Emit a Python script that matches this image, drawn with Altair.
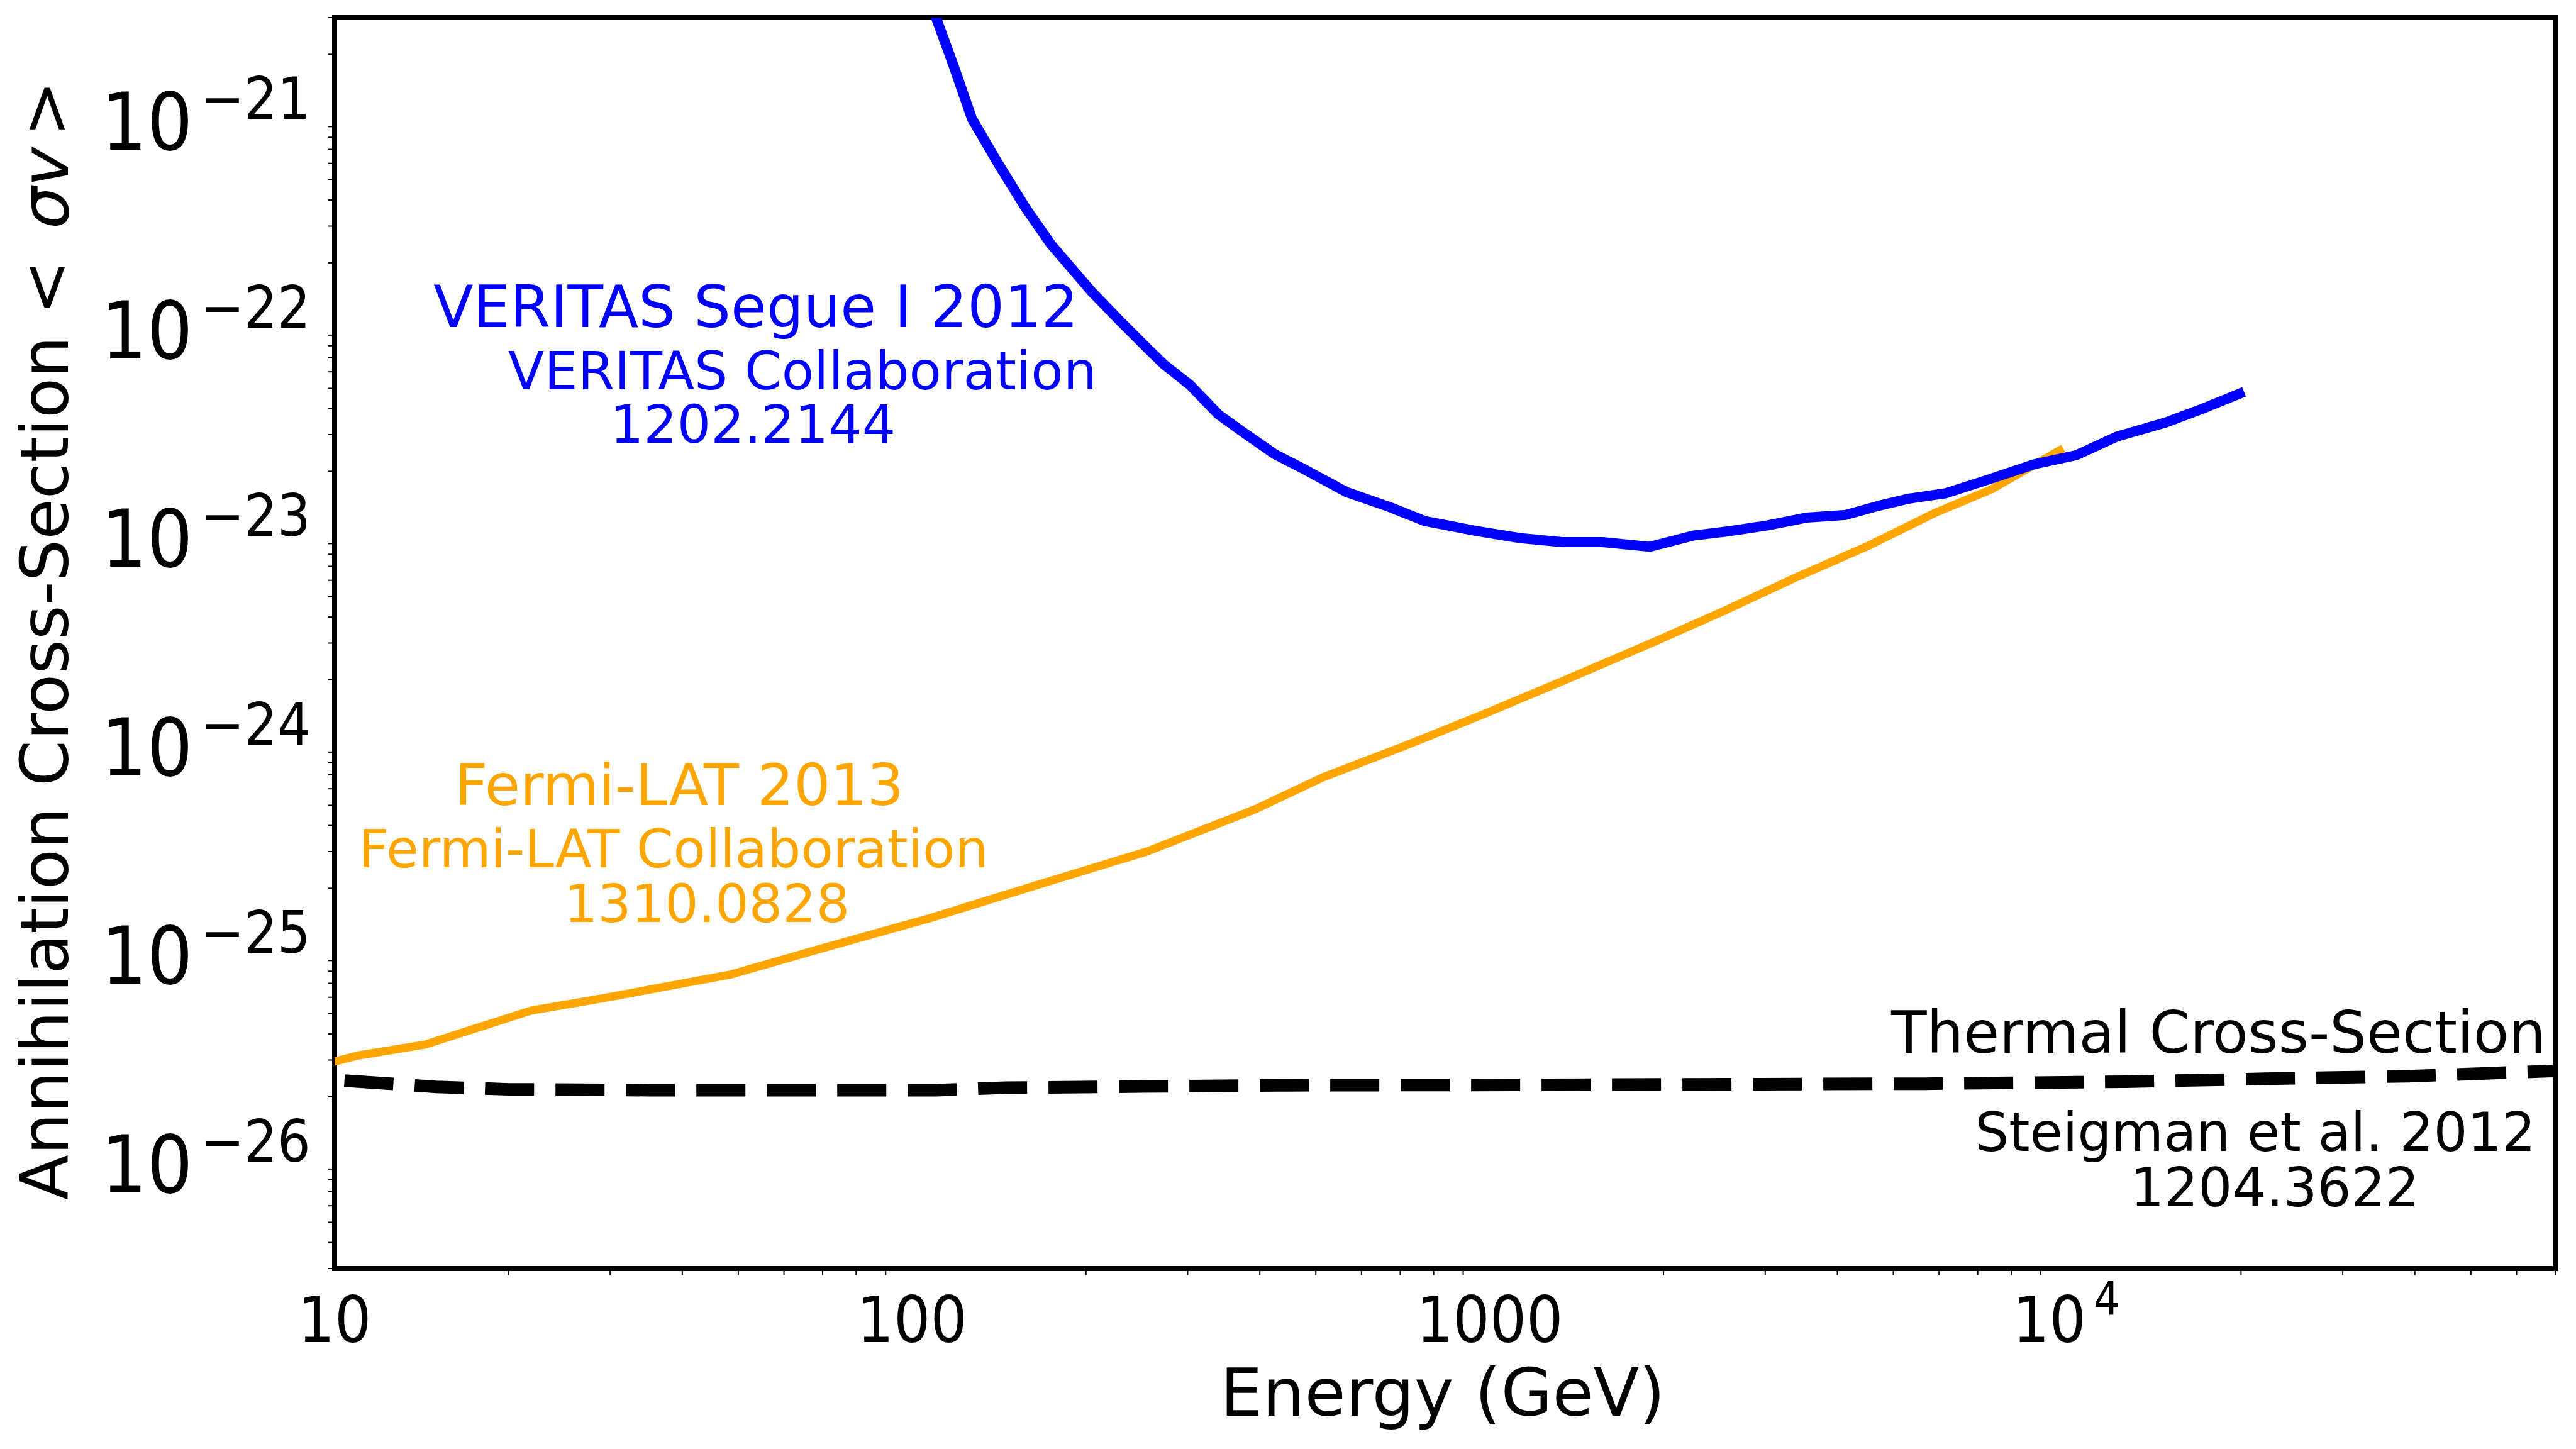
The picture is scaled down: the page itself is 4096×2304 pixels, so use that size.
import altair as alt
import pandas as pd

# ---------------------------------------------------------------------------
# Data
# ---------------------------------------------------------------------------
# VERITAS Segue 1 upper limit on <sigma v> (GeV, cm^3/s)
veritas_energy = [110, 118, 127, 140.6, 157, 174, 205, 230, 255, 273, 303, 339,
                  373, 424, 480, 565, 670, 771, 946, 1127, 1334, 1570, 1892,
                  2250, 2620, 3030, 3546, 4140, 4720, 5310, 6170, 7240, 8760,
                  10370, 12170, 14820, 17420, 19870]
veritas_sigmav = [3.0e-21, 1.76e-21, 9.8e-22, 6.05e-22, 3.69e-22, 2.45e-22,
                  1.445e-22, 1.04e-22, 7.82e-23, 6.51e-23, 5.18e-23, 3.75e-23,
                  3.10e-23, 2.42e-23, 2.03e-23, 1.59e-23, 1.35e-23, 1.156e-23,
                  1.035e-23, 9.57e-24, 9.15e-24, 9.15e-24, 8.69e-24, 9.83e-24,
                  1.035e-23, 1.10e-23, 1.20e-23, 1.236e-23, 1.367e-23, 1.477e-23,
                  1.57e-23, 1.81e-23, 2.16e-23, 2.39e-23, 2.93e-23, 3.43e-23,
                  4.06e-23, 4.71e-23]

# Fermi-LAT dwarf spheroidal combined limit
fermi_energy = [10.0, 10.96, 14.35, 21.9, 29.0, 48.3, 69.0, 108, 169, 255, 393,
                514, 708, 977, 1349, 1948, 2570, 3390, 4470, 5880, 7400, 9700]
fermi_sigmav = [2.95e-26, 3.15e-26, 3.56e-26, 5.18e-26, 5.92e-26, 7.69e-26,
                1.02e-25, 1.445e-25, 2.12e-25, 3.0e-25, 4.79e-25, 6.8e-25,
                9.57e-25, 1.368e-24, 1.99e-24, 3.08e-24, 4.33e-24, 6.19e-24,
                8.65e-24, 1.256e-23, 1.64e-23, 2.52e-23]

# Thermal relic cross-section
thermal_energy = [10.4, 15, 20, 35, 80, 110, 145, 250, 450, 1100, 5700, 12600,
                  22000, 39000, 70000]
thermal_sigmav = [2.39e-26, 2.23e-26, 2.17e-26, 2.15e-26, 2.15e-26, 2.15e-26,
                  2.21e-26, 2.24e-26, 2.27e-26, 2.28e-26, 2.31e-26, 2.36e-26,
                  2.44e-26, 2.51e-26, 2.66e-26]

# Tick labels
x_major = [10, 100, 1000, 10000]
x_major_base = ["10", "100", "1000", "10"]
x_major_exp = ["", "", "", "4"]
y_major = [1e-26, 1e-25, 1e-24, 1e-23, 1e-22, 1e-21]
y_major_exp = ["\u221226", "\u221225", "\u221224", "\u221223", "\u221222", "\u221221"]

# Annotation text
veritas_lines = ["VERITAS Segue I 2012", "VERITAS Collaboration", "1202.2144"]
fermi_lines = ["Fermi-LAT 2013", "Fermi-LAT Collaboration", "1310.0828"]
thermal_lines = ["Thermal Cross-Section", "Steigman et al. 2012", "1204.3622"]

# Axis titles (the y title has an italic "σv" part)
x_title = "Energy (GeV)"
y_title_parts = ["Annihilation Cross-Section <", "\u03c3v", ">"]

# ---------------------------------------------------------------------------
# Layout / style
# ---------------------------------------------------------------------------
W, H = 3531, 1989
PAD = {"left": 532, "top": 28, "right": 33, "bottom": 287}
FONT = "DejaVu Sans"
TICK_FONT = "DejaVu Sans Condensed, DejaVu Sans"
BLUE, ORANGE, BLACK = "#0000ff", "#ffa500", "#000000"

X_LO, X_HI = 10, 70000
Y_LO, Y_HI = 3e-27, 3e-21
x_scale = alt.Scale(type="log", domain=[X_LO, X_HI], nice=False)
y_scale = alt.Scale(type="log", domain=[Y_LO, Y_HI], nice=False)

# minor ticks on the log axes (2..9 x each decade inside the domain)
x_minor = [k * 10 ** d for d in range(1, 5) for k in range(2, 10)
           if k * 10 ** d <= X_HI * 1.0001]
y_minor = [float(f"{k}e{d}") for d in range(-27, -20) for k in range(2, 10)
           if Y_LO * 0.9999 <= float(f"{k}e{d}") <= Y_HI * 1.0001]

x_axis = alt.Axis(values=x_major, labels=False, domain=False, grid=False,
                  ticks=True, tickSize=17.5, tickWidth=2.4, tickColor=BLACK,
                  title=None)
y_axis = alt.Axis(values=y_major, labels=False, domain=False, grid=False,
                  ticks=True, tickSize=17.5, tickWidth=2.4, tickColor=BLACK,
                  title=None)


def curve(energy, sigmav, color, width, dash=None, cap="square", axes=False):
    df = pd.DataFrame({"energy": energy, "sigmav": sigmav})
    props = dict(color=color, strokeWidth=width, strokeCap=cap,
                 strokeJoin="round", clip=True)
    if dash:
        props["strokeDash"] = dash
    return alt.Chart(df).mark_line(**props).encode(
        x=alt.X("energy:Q", scale=x_scale, axis=x_axis if axes else None),
        y=alt.Y("sigmav:Q", scale=y_scale, axis=y_axis if axes else None),
    )


def note(text, x, y, size, color, align="center", angle=0, style="normal"):
    return alt.Chart(pd.DataFrame({"t": [text]})).mark_text(
        align=align, baseline="alphabetic", font=FONT, fontSize=size,
        color=color, angle=angle, fontStyle=style,
    ).encode(x=alt.value(x), y=alt.value(y), text="t:N")


thermal = curve(thermal_energy, thermal_sigmav, BLACK, 20, dash=[78, 34],
                cap="butt", axes=True)
fermi = curve(fermi_energy, fermi_sigmav, ORANGE, 13)
veritas = curve(veritas_energy, veritas_sigmav, BLUE, 16)

# minor ticks
x_minor_ticks = alt.Chart(pd.DataFrame({"v": x_minor})).mark_rule(
    color=BLACK, strokeWidth=2.0
).encode(x=alt.X("v:Q", scale=x_scale, axis=None),
         y=alt.value(H), y2=alt.value(H + 10.5))
y_minor_ticks = alt.Chart(pd.DataFrame({"v": y_minor})).mark_rule(
    color=BLACK, strokeWidth=2.0
).encode(y=alt.Y("v:Q", scale=y_scale, axis=None),
         x=alt.value(0), x2=alt.value(-10.5))

# y tick labels: "10" with a raised exponent
ylab = pd.DataFrame({"v": y_major, "base": ["10"] * len(y_major),
                     "exp": y_major_exp})
y_base = alt.Chart(ylab).mark_text(
    align="right", baseline="alphabetic", font=TICK_FONT, fontSize=127,
    color=BLACK, dy=52,
).encode(y=alt.Y("v:Q", scale=y_scale, axis=None), x=alt.value(-225.6),
         text="base:N")
y_exp = alt.Chart(ylab).mark_text(
    align="left", baseline="alphabetic", font=TICK_FONT, fontSize=92,
    color=BLACK, dy=3,
).encode(y=alt.Y("v:Q", scale=y_scale, axis=None), x=alt.value(-213),
         text="exp:N")

# x tick labels
xlab = pd.DataFrame({"v": x_major, "base": x_major_base, "exp": x_major_exp})
xlab_plain = xlab[xlab["exp"] == ""]
xlab_pow = xlab[xlab["exp"] != ""]
x_plain = alt.Chart(xlab_plain).mark_text(
    align="center", baseline="alphabetic", font=TICK_FONT, fontSize=102,
    color=BLACK,
).encode(x=alt.X("v:Q", scale=x_scale, axis=None), y=alt.value(H + 117.4),
         text="base:N")
x_pow_base = alt.Chart(xlab_pow).mark_text(
    align="right", baseline="alphabetic", font=TICK_FONT, fontSize=102,
    color=BLACK, dx=30,
).encode(x=alt.X("v:Q", scale=x_scale, axis=None), y=alt.value(H + 117.4),
         text="base:N")
x_pow_exp = alt.Chart(xlab_pow).mark_text(
    align="left", baseline="alphabetic", font=TICK_FONT, fontSize=73,
    color=BLACK, dx=42,
).encode(x=alt.X("v:Q", scale=x_scale, axis=None), y=alt.value(H + 74),
         text="exp:N")

titles = [
    note(x_title, 1762, H + 234, 106, BLACK),
    note(y_title_parts[0], -424, 1880, 105, BLACK, align="left", angle=270),
    note(y_title_parts[1], -424, 336, 106, BLACK, align="left", angle=270,
         style="italic"),
    note(y_title_parts[2], -424, 189, 106, BLACK, align="left", angle=270),
]

notes = [
    note(veritas_lines[0], 670, 492, 92.5, BLUE),
    note(veritas_lines[1], 744, 591, 84, BLUE),
    note(veritas_lines[2], 665, 676, 84, BLUE),
    note(fermi_lines[0], 548, 1252, 91.5, ORANGE),
    note(fermi_lines[1], 539, 1351, 84, ORANGE),
    note(fermi_lines[2], 592, 1438, 84, ORANGE),
    note(thermal_lines[0], 3516, 1646, 92.5, BLACK, align="right"),
    note(thermal_lines[1], 3054, 1802, 85, BLACK),
    note(thermal_lines[2], 3085, 1890, 85, BLACK),
]

chart = alt.layer(
    thermal, fermi, veritas,
    x_minor_ticks, y_minor_ticks,
    y_base, y_exp, x_plain, x_pow_base, x_pow_exp,
    *titles, *notes,
).properties(
    width=W, height=H, padding=PAD,
    autosize=alt.AutoSizeParams(type="none"),
    background="white",
).configure_view(stroke=BLACK, strokeWidth=8)

chart.save("out.html", embed_options={"renderer": "svg", "actions": False})
